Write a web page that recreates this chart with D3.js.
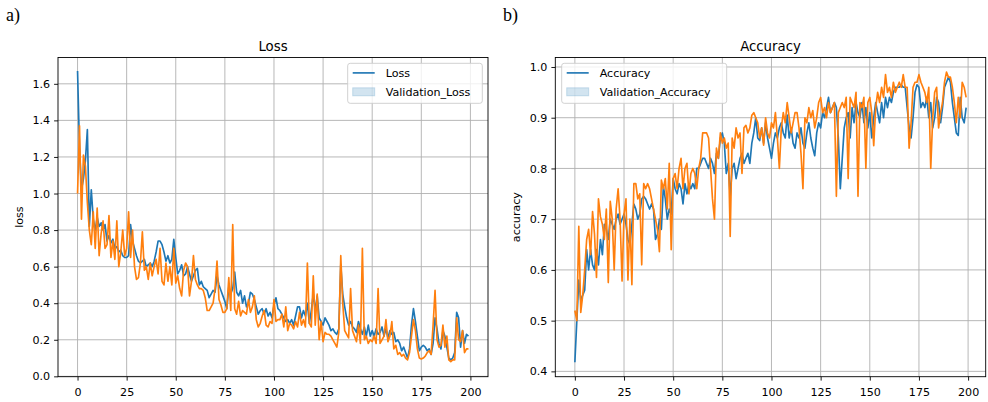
<!DOCTYPE html>
<html>
<head>
<meta charset="utf-8">
<script src="https://cdn.jsdelivr.net/npm/d3@7"></script>
<style>
  body { margin: 0; background: #fff; }
  svg text { font-family: "DejaVu Sans", sans-serif; fill: #000; }
</style>
</head>
<body>
<svg id="chart" width="988" height="402"></svg>
<script>
// values, one per epoch (0..199)
const loss = [1.67,1.25,1.02,1.08,1.18,1.35,0.82,1.02,0.86,0.80,
  0.87,0.82,0.84,0.80,0.83,0.74,0.77,0.73,0.75,0.70,
  0.71,0.68,0.69,0.66,0.65,0.65,0.66,0.83,0.74,0.70,
  0.66,0.63,0.62,0.63,0.64,0.60,0.61,0.62,0.60,0.63,
  0.68,0.74,0.74,0.72,0.68,0.63,0.66,0.62,0.64,0.75,
  0.65,0.56,0.58,0.61,0.55,0.56,0.60,0.56,0.52,0.55,
  0.58,0.59,0.50,0.52,0.49,0.48,0.47,0.43,0.45,0.47,
  0.46,0.55,0.50,0.47,0.44,0.41,0.37,0.49,0.45,0.48,
  0.57,0.46,0.44,0.47,0.40,0.44,0.38,0.40,0.46,0.45,
  0.42,0.38,0.34,0.36,0.37,0.34,0.37,0.33,0.35,0.32,
  0.39,0.43,0.37,0.36,0.34,0.32,0.30,0.31,0.29,0.31,
  0.28,0.33,0.38,0.38,0.32,0.36,0.33,0.40,0.29,0.36,
  0.45,0.36,0.44,0.32,0.30,0.28,0.32,0.30,0.28,0.25,
  0.26,0.24,0.23,0.26,0.61,0.45,0.38,0.32,0.28,0.30,
  0.27,0.26,0.24,0.30,0.26,0.23,0.27,0.22,0.28,0.22,
  0.25,0.22,0.26,0.23,0.24,0.27,0.22,0.26,0.21,0.25,
  0.23,0.24,0.19,0.20,0.18,0.14,0.16,0.13,0.10,0.15,
  0.28,0.37,0.30,0.22,0.14,0.16,0.17,0.16,0.14,0.15,
  0.12,0.18,0.32,0.26,0.18,0.15,0.25,0.22,0.16,0.10,
  0.09,0.10,0.13,0.35,0.32,0.16,0.25,0.18,0.23,0.22];

const valLoss = [1.00,1.37,0.86,1.21,1.15,0.95,0.80,0.72,0.90,0.70,
  0.92,0.66,0.78,0.85,0.70,0.72,0.88,0.65,0.74,0.64,
  0.85,0.60,0.68,0.80,0.66,0.70,0.90,0.65,0.80,0.60,
  0.53,0.54,0.62,0.79,0.58,0.60,0.53,0.62,0.55,0.60,
  0.64,0.56,0.70,0.52,0.50,0.62,0.52,0.60,0.50,0.70,
  0.51,0.55,0.48,0.44,0.58,0.62,0.60,0.44,0.52,0.66,
  0.53,0.50,0.48,0.48,0.47,0.43,0.36,0.36,0.38,0.40,
  0.48,0.63,0.42,0.39,0.35,0.35,0.37,0.54,0.36,0.83,
  0.37,0.34,0.41,0.33,0.36,0.35,0.34,0.42,0.35,0.38,
  0.44,0.31,0.27,0.29,0.33,0.36,0.28,0.27,0.30,0.29,
  0.42,0.30,0.31,0.31,0.34,0.27,0.38,0.25,0.29,0.28,
  0.26,0.30,0.27,0.35,0.28,0.31,0.27,0.62,0.29,0.27,
  0.55,0.28,0.45,0.20,0.30,0.19,0.24,0.23,0.23,0.22,
  0.20,0.18,0.16,0.24,0.66,0.40,0.25,0.23,0.21,0.48,
  0.25,0.22,0.19,0.28,0.18,0.70,0.20,0.22,0.18,0.20,
  0.19,0.22,0.18,0.48,0.18,0.20,0.22,0.31,0.19,0.22,
  0.30,0.15,0.17,0.12,0.13,0.11,0.12,0.10,0.09,0.13,
  0.22,0.31,0.25,0.15,0.10,0.095,0.10,0.11,0.13,0.14,
  0.12,0.28,0.47,0.20,0.16,0.17,0.28,0.16,0.22,0.09,
  0.08,0.09,0.09,0.32,0.20,0.19,0.25,0.13,0.15,0.15];

const accuracy = [0.418,0.50,0.58,0.54,0.55,0.56,0.64,0.60,0.64,0.61,
  0.60,0.64,0.61,0.66,0.63,0.69,0.68,0.66,0.70,0.69,
  0.68,0.70,0.71,0.69,0.70,0.71,0.69,0.66,0.65,0.69,
  0.73,0.72,0.70,0.71,0.74,0.745,0.74,0.73,0.72,0.73,
  0.72,0.66,0.67,0.70,0.68,0.765,0.74,0.70,0.72,0.71,
  0.78,0.76,0.75,0.77,0.76,0.73,0.77,0.75,0.77,0.76,
  0.77,0.76,0.80,0.80,0.81,0.82,0.82,0.81,0.80,0.82,
  0.81,0.79,0.83,0.82,0.86,0.87,0.85,0.79,0.81,0.745,
  0.80,0.81,0.78,0.80,0.82,0.83,0.81,0.82,0.83,0.81,
  0.85,0.87,0.90,0.86,0.855,0.88,0.85,0.89,0.86,0.84,
  0.82,0.85,0.87,0.86,0.88,0.89,0.87,0.86,0.905,0.86,
  0.88,0.85,0.84,0.87,0.86,0.88,0.85,0.84,0.87,0.89,
  0.86,0.84,0.825,0.87,0.89,0.88,0.91,0.90,0.92,0.94,
  0.91,0.92,0.93,0.92,0.86,0.76,0.82,0.88,0.90,0.91,
  0.86,0.92,0.89,0.93,0.91,0.90,0.93,0.89,0.92,0.88,
  0.91,0.86,0.90,0.93,0.91,0.89,0.93,0.90,0.94,0.92,
  0.94,0.93,0.95,0.96,0.96,0.96,0.965,0.96,0.96,0.92,
  0.88,0.86,0.90,0.95,0.965,0.96,0.92,0.93,0.92,0.94,
  0.90,0.93,0.88,0.90,0.94,0.93,0.89,0.92,0.96,0.97,
  0.98,0.97,0.93,0.90,0.87,0.865,0.94,0.90,0.89,0.92];

const valAccuracy = [0.52,0.50,0.686,0.516,0.55,0.60,0.66,0.68,0.63,0.715,
  0.67,0.585,0.74,0.705,0.69,0.66,0.72,0.575,0.735,0.70,
  0.60,0.72,0.76,0.70,0.578,0.71,0.74,0.58,0.70,0.571,
  0.77,0.77,0.74,0.75,0.61,0.77,0.76,0.77,0.76,0.74,
  0.72,0.70,0.68,0.636,0.777,0.76,0.78,0.72,0.81,0.64,
  0.78,0.79,0.76,0.80,0.82,0.76,0.80,0.81,0.75,0.79,
  0.80,0.79,0.76,0.80,0.82,0.87,0.87,0.87,0.86,0.80,
  0.74,0.70,0.84,0.82,0.87,0.85,0.86,0.84,0.85,0.666,
  0.86,0.84,0.88,0.86,0.87,0.79,0.88,0.885,0.87,0.88,
  0.905,0.91,0.90,0.89,0.86,0.88,0.846,0.90,0.87,0.86,
  0.89,0.88,0.91,0.86,0.80,0.88,0.91,0.89,0.93,0.90,
  0.87,0.89,0.91,0.91,0.88,0.83,0.76,0.90,0.89,0.92,
  0.90,0.914,0.88,0.90,0.93,0.94,0.91,0.92,0.90,0.93,
  0.91,0.92,0.93,0.745,0.91,0.92,0.93,0.92,0.94,0.78,
  0.94,0.93,0.92,0.95,0.745,0.93,0.92,0.94,0.80,0.93,
  0.94,0.91,0.845,0.92,0.95,0.93,0.96,0.94,0.985,0.95,
  0.96,0.94,0.97,0.95,0.96,0.97,0.96,0.985,0.96,0.96,
  0.84,0.89,0.96,0.97,0.97,0.985,0.97,0.96,0.95,0.93,
  0.96,0.80,0.90,0.95,0.96,0.88,0.91,0.93,0.97,0.99,
  0.98,0.98,0.96,0.93,0.89,0.94,0.90,0.97,0.96,0.94];

const xTicks = [0, 25, 50, 75, 100, 125, 150, 175, 200];
const lossTicks = [0.0, 0.2, 0.4, 0.6, 0.8, 1.0, 1.2, 1.4, 1.6];
const accTicks = [0.4, 0.5, 0.6, 0.7, 0.8, 0.9, 1.0];

const blue = "#1f77b4", orange = "#ff7f0e";
const fontSize = 11.1;

const svg = d3.select("#chart");

function drawPanel(p) {
    const x = d3.scaleLinear().domain([-9.95, 208.95]).range([p.left, p.right]);
    const y = d3.scaleLinear().domain(p.yDomain).range([p.bottom, p.top]);
    const g = svg.append("g");

    // grid
    g.append("g").selectAll("line").data(xTicks).join("line")
        .attr("x1", d => x(d)).attr("x2", d => x(d))
        .attr("y1", p.top).attr("y2", p.bottom)
        .attr("stroke", "#b0b0b0").attr("stroke-width", 0.9);
    g.append("g").selectAll("line").data(p.yTicks).join("line")
        .attr("y1", d => y(d)).attr("y2", d => y(d))
        .attr("x1", p.left).attr("x2", p.right)
        .attr("stroke", "#b0b0b0").attr("stroke-width", 0.9);

    const line = d3.line().x((d, i) => x(i)).y(d => y(d));

    g.append("path").datum(p.train)
        .attr("fill", "none").attr("stroke", blue).attr("stroke-width", 1.65)
        .attr("stroke-linejoin", "round")
        .attr("d", line);
    g.append("path").datum(p.val)
        .attr("fill", "none").attr("stroke", orange).attr("stroke-width", 1.65)
        .attr("stroke-linejoin", "round")
        .attr("d", line);

    // axes
    const axisB = d3.axisBottom(x).tickValues(xTicks).tickSizeInner(3.9).tickSizeOuter(0)
        .tickPadding(7.4).tickFormat(d3.format("d"));
    g.append("g").attr("transform", `translate(0,${p.bottom})`)
        .call(axisB)
        .call(a => a.select(".domain").remove())
        .call(a => a.selectAll("line").attr("stroke-width", 0.9))
        .call(a => a.selectAll("text").style("font-size", fontSize + "px").style("font-family", "DejaVu Sans"));

    const axisL = d3.axisLeft(y).tickValues(p.yTicks).tickSizeInner(3.9).tickSizeOuter(0)
        .tickPadding(4).tickFormat(d3.format(".1f"));
    g.append("g").attr("transform", `translate(${p.left},0)`)
        .call(axisL)
        .call(a => a.select(".domain").remove())
        .call(a => a.selectAll("line").attr("stroke-width", 0.9))
        .call(a => a.selectAll("text").style("font-size", fontSize + "px").style("font-family", "DejaVu Sans"));

    // frame
    g.append("rect")
        .attr("x", p.left).attr("y", p.top)
        .attr("width", p.right - p.left).attr("height", p.bottom - p.top)
        .attr("fill", "none").attr("stroke", "#000").attr("stroke-width", 0.9);

    // title
    g.append("text")
        .attr("x", (p.left + p.right) / 2).attr("y", p.top - 6.8)
        .attr("text-anchor", "middle")
        .style("font-size", "13.3px")
        .text(p.title);

    // y label
    g.append("text")
        .attr("transform", `translate(${p.left - 35},${(p.top + p.bottom) / 2}) rotate(-90)`)
        .attr("text-anchor", "middle")
        .style("font-size", fontSize + "px")
        .text(p.yLabel);

    // panel letter
    g.append("text")
        .attr("x", p.letterX).attr("y", 20.5)
        .style("font-family", "'Liberation Serif', serif")
        .style("font-size", "18px")
        .text(p.letter);

    // legend
    const lg = g.append("g").attr("transform", `translate(${p.legendX},63.3)`);
    lg.append("rect")
        .attr("width", p.legendW).attr("height", 40).attr("rx", 2.5)
        .attr("fill", "#fff").attr("fill-opacity", 0.8)
        .attr("stroke", "#cccccc").attr("stroke-width", 0.9);
    lg.append("line")
        .attr("x1", 5).attr("x2", 27).attr("y1", 9.6).attr("y2", 9.6)
        .attr("stroke", blue).attr("stroke-width", 1.65);
    lg.append("rect")
        .attr("x", 5).attr("y", 24.5).attr("width", 22).attr("height", 8)
        .attr("fill", blue).attr("fill-opacity", 0.2)
        .attr("stroke", blue).attr("stroke-opacity", 0.2);
    lg.append("text")
        .attr("x", 38).attr("y", 9.6).attr("dy", "0.36em")
        .style("font-size", fontSize + "px")
        .text(p.names[0]);
    lg.append("text")
        .attr("x", 38).attr("y", 28.5).attr("dy", "0.36em")
        .style("font-size", fontSize + "px")
        .text(p.names[1]);
}

drawPanel({
    left: 58, right: 488, top: 57.5, bottom: 376.7,
    yDomain: [-0.002, 1.744], yTicks: lossTicks,
    train: loss, val: valLoss,
    title: "Loss", yLabel: "loss", letter: "a)", letterX: 6,
    legendX: 347.7, legendW: 134.6,
    names: ["Loss", "Validation_Loss"]
});

drawPanel({
    left: 555.3, right: 985.7, top: 57.5, bottom: 376.7,
    yDomain: [0.3895, 1.0187], yTicks: accTicks,
    train: accuracy, val: valAccuracy,
    title: "Accuracy", yLabel: "accuracy", letter: "b)", letterX: 503,
    legendX: 561.7, legendW: 165,
    names: ["Accuracy", "Validation_Accuracy"]
});
</script>
</body>
</html>
